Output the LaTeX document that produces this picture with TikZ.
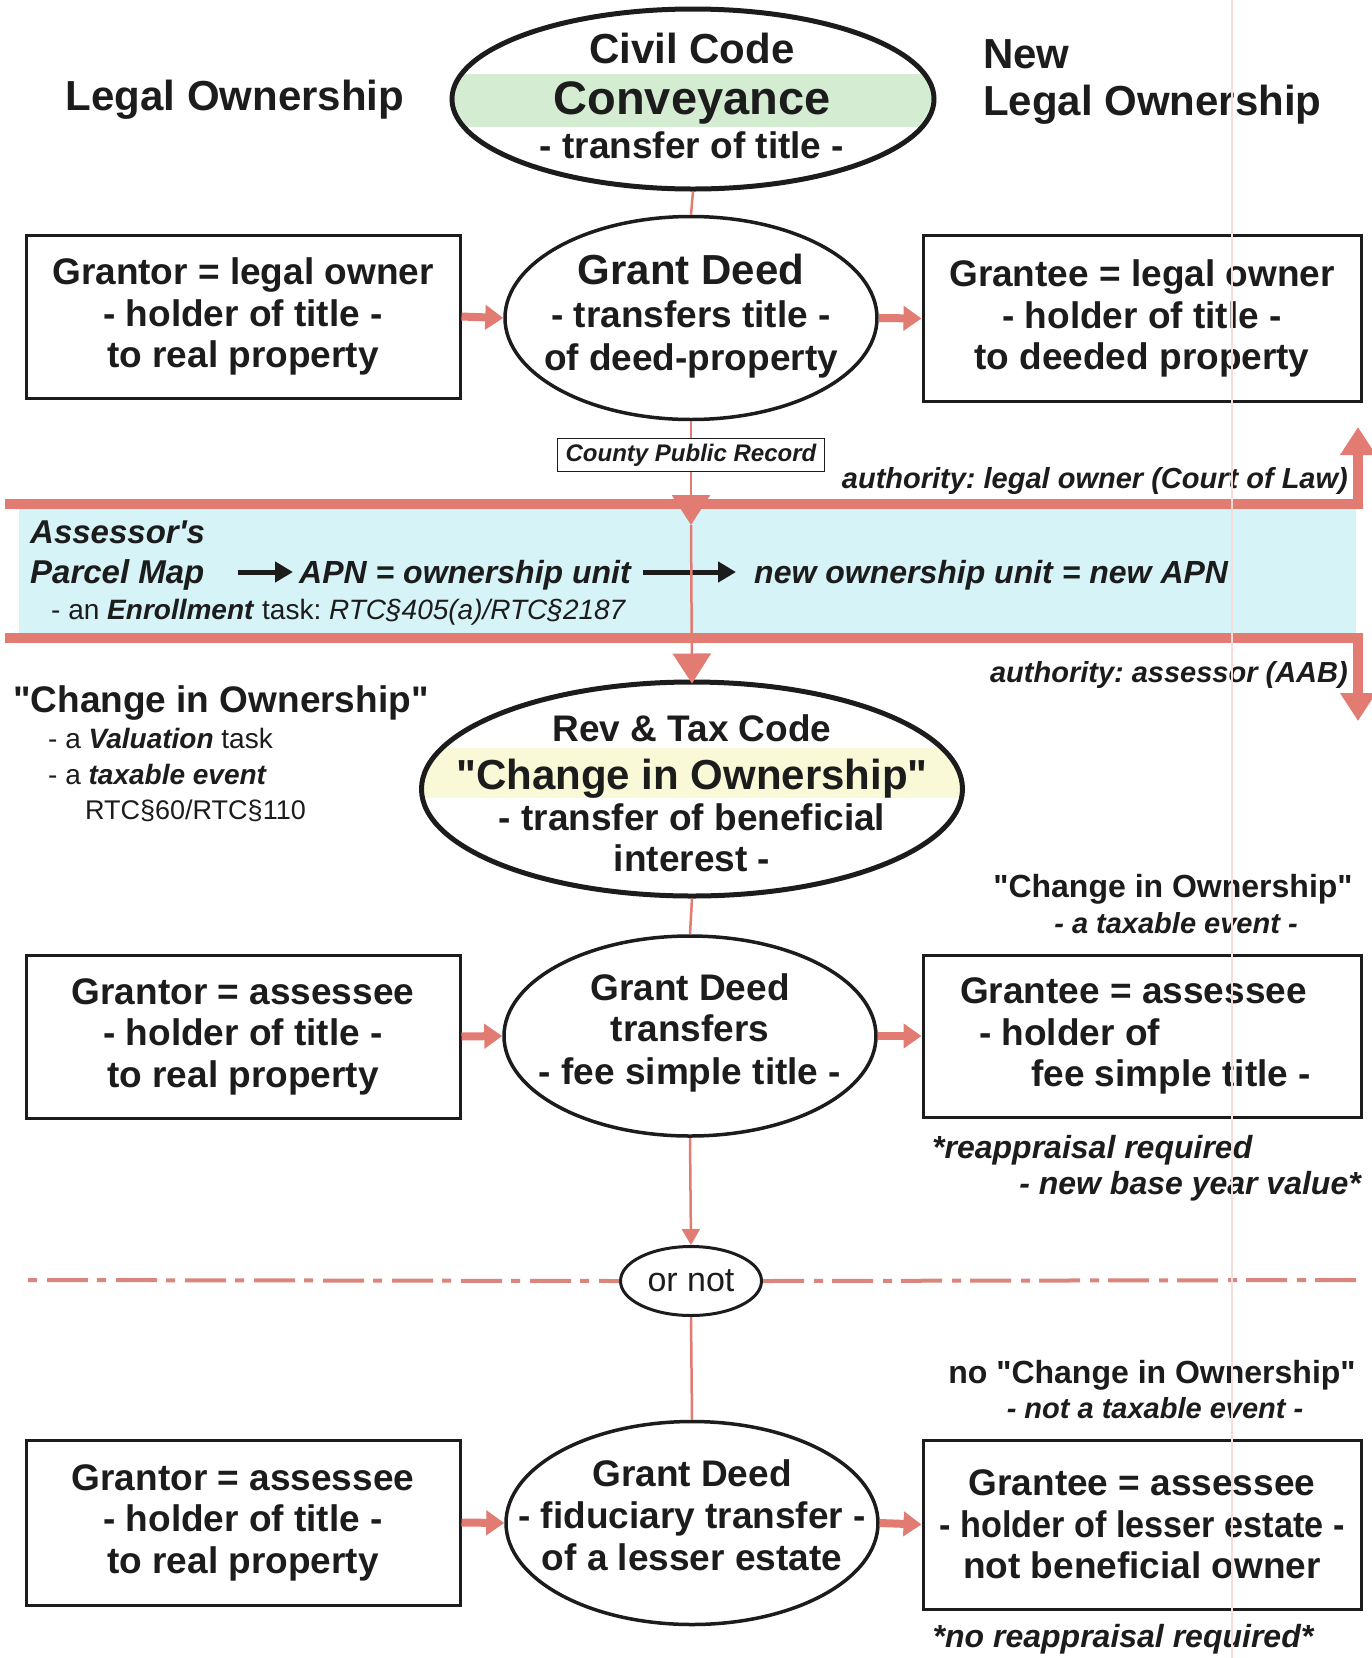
\documentclass[tikz,border=0pt]{standalone}
\usepackage{fontspec}
\usepackage{graphicx}
\setmainfont{Liberation Sans}[Ligatures=TeXOff]
\usetikzlibrary{shapes.geometric,arrows.meta}
\definecolor{pinkc}{RGB}{226,124,114}
\definecolor{pinkd}{RGB}{218,134,124}
\definecolor{pinkl}{RGB}{245,222,218}
\definecolor{cyanb}{RGB}{214,243,248}
\definecolor{greenb}{RGB}{212,237,210}
\definecolor{yellowb}{RGB}{249,249,216}
\definecolor{txt}{RGB}{28,28,28}
\newcommand\myfs[2]{\fontsize{#1}{#2}\selectfont}
\frenchspacing
\begin{document}
\begin{tikzpicture}[x=1pt,y=-1pt,
  tl/.style={inner sep=0pt, anchor=base, text=txt},
  tlw/.style={tl, anchor=base west},
  tle/.style={tl, anchor=base east},
  fA/.style={font=\bfseries\myfs{42}{47}},
  fB/.style={font=\bfseries\myfs{37}{41.5}},
  fC/.style={font=\bfseries\myfs{32}{36}},
  fCi/.style={font=\bfseries\itshape\myfs{32}{36}},
  fDi/.style={font=\bfseries\itshape\myfs{29}{33}},
  ell/.style={ellipse, draw=txt, line width=3.5pt, inner sep=0pt},
  box/.style={draw=txt, line width=3pt, fill=white, inner sep=0pt, align=center,
              text=txt, font=\bfseries\myfs{37}{41.5}},
  pinkline/.style={draw=pinkc, line width=2.5pt},
  pinkarrow/.style={draw=pinkc, line width=8pt, -{Triangle[length=18pt,width=24pt]}},
  bigtip/.style={-{Triangle[length=30pt,width=38pt]}},
  bandline/.style={draw=pinkc, line width=10pt, -{Triangle[length=28pt,width=34pt]}},
  blackarrow/.style={draw=txt, line width=5pt, -{Triangle[length=18pt,width=20pt]}}
]
\useasboundingbox (0,0) rectangle (1372,1658);
\fill[white] (0,0) rectangle (1372,1658);

% ---------- assessor band ----------
\fill[cyanb] (19,509) rectangle (1356,633);
\draw[bandline] (5,504) -- (1358,504) -- (1358,427);
\draw[bandline] (5,638) -- (1358,638) -- (1358,721);

% ---------- colour bands inside ellipses ----------
\begin{scope}
  \clip (693,99) ellipse [x radius=238, y radius=88];
  \fill[greenb] (440,74) rectangle (940,127);
\end{scope}
\begin{scope}
  \clip (692,790) ellipse [x radius=269, y radius=106];
  \fill[yellowb] (410,748) rectangle (980,798);
\end{scope}

% ---------- ellipses ----------
\node[ell, line width=5pt, minimum width=482pt, minimum height=180pt] (civil) at (693,99) {};
\node[ell, minimum width=372pt, minimum height=203pt] (gd1) at (691,318) {};
\node[ell, line width=5pt, minimum width=541pt, minimum height=214pt] (revtax) at (692,789) {};
\node[ell, minimum width=372pt, minimum height=200pt] (gd2) at (690,1036) {};
\node[ell, line width=3pt, minimum width=141pt, minimum height=69pt, fill=white,
      text=txt, font=\myfs{34}{38}] (ornot) at (691,1281) {or not};
\node[ell, minimum width=372pt, minimum height=203pt] (gd3) at (692,1523) {};

% ellipse texts
\node[tl, fA] (civA) at (692,63) {Civil Code};
\node[tl, font=\bfseries\myfs{47}{50}] (civB) at (692,114) {Conveyance};
\node[tl, fB] (civC) at (692,158) {- transfer of title -};

\node[tl, fA] (gd1A) at (691,284) {Grant Deed};
\node[tl, fB] (gd1B) at (691,327) {- transfers title -};
\node[tl, fB] (gd1C) at (691,370) {of deed-property};

\node[tl, fB] (rtA) at (692,741) {Rev \& Tax Code};
\node[tl, fA] (rtB) at (692,789) {"Change in Ownership"};
\node[tl, fB] (rtC) at (692,830) {- transfer of beneficial};
\node[tl, fB] (rtD) at (692,871) {interest -};

\node[tl, fB] (gd2A) at (690,1000) {Grant Deed};
\node[tl, fB] (gd2B) at (690,1041) {transfers};
\node[tl, fB] (gd2C) at (690,1084) {- fee simple title -};

\node[tl, fB] (gd3A) at (692,1486) {Grant Deed};
\node[tl, fB] (gd3B) at (692,1528) {- fiduciary transfer -};
\node[tl, fB] (gd3C) at (692,1570) {of a lesser estate};

% ---------- boxes ----------
\node[box, minimum width=434pt, minimum height=163pt] (gtor1) at (243,316.5)
  {Grantor = legal owner\\- holder of title -\\to real property};
\node[box, minimum width=438pt, minimum height=166pt] (gtee1) at (1142,318.5)
  {Grantee = legal owner\\- holder of title -\\to deeded property};
\node[box, minimum width=434pt, minimum height=163pt] (gtor2) at (243,1036.5)
  {Grantor = assessee\\- holder of title -\\to real property};
\node[box, minimum width=438pt, minimum height=162pt, align=left] (gtee2) at (1142,1036)
  {Grantee = assessee\\\hspace*{19pt}- holder of\\\hspace*{71pt}fee simple title -\hbox to 13pt{}};
\node[box, minimum width=434pt, minimum height=165pt] (gtor3) at (243,1522.5)
  {Grantor = assessee\\- holder of title -\\to real property};
\node[box, minimum width=438pt, minimum height=169pt] (gtee3) at (1142,1524.5)
  {Grantee = assessee\\\scalebox{0.925}[1]{- holder of lesser estate -}\\not beneficial owner};

% ---------- county record ----------
\node[draw=txt, line width=1.5pt, fill=white, inner sep=0pt, minimum width=267pt,
      minimum height=33pt, text=txt, font=\bfseries\itshape\myfs{24}{26}] (county) at (691,455)
  {County Public Record};

% ---------- headings ----------
\node[tl, fA] (lo) at (235,110) {Legal Ownership};
\node[tlw, fA] (newA) at (983,68) {New};
\node[tlw, fA] (newB) at (983,115) {Legal Ownership};

% ---------- authorities ----------
\node[tle, fDi] (auth1) at (1348,488) {authority: legal owner (Court of Law)};
\node[tle, fDi] (auth2) at (1348,682) {authority: assessor (AAB)};

% ---------- band texts ----------
\node[tlw, font=\bfseries\itshape\myfs{33}{36}] (ass) at (30,543) {Assessor's};
\node[tlw, font=\bfseries\itshape\myfs{33}{36}] (pmap) at (30,583) {Parcel Map};
\node[tlw, fCi] (apn) at (299,583) {APN = ownership unit};
\node[tlw, fCi] (napn) at (754,583) {new ownership unit = new APN};
\node[tlw, font=\myfs{28}{32}] (enrol) at (51,619)
  {- an \textbf{\textit{Enrollment}} task: \textit{RTC§405(a)/RTC§2187}};
\draw[blackarrow] ([xshift=33pt,yshift=11pt]pmap.base east) -- ([xshift=-6pt,yshift=11pt]apn.base west);
\draw[blackarrow] ([xshift=12pt,yshift=11pt]apn.base east) -- ([xshift=-18pt,yshift=11pt]napn.base west);

% ---------- left annotation ----------
\node[tlw, font=\bfseries\myfs{37}{40}] (cioL) at (13,712) {"Change in Ownership"};
\node[tlw, font=\myfs{28}{32}] (valL) at (48,748) {- a \textbf{\textit{Valuation}} task};
\node[tlw, font=\myfs{28}{32}] (taxL) at (48,784) {- a \textbf{\textit{taxable event}}};
\node[tlw, font=\myfs{27}{30}] (rtcL) at (85,819) {RTC§60/RTC§110};

% ---------- right annotations ----------
\node[tl, fC] (cioR) at (1173,897) {"Change in Ownership"};
\node[tl, fDi] (taxR) at (1176,933) {- a taxable event -};
\node[tlw, fCi] (reapA) at (932,1158) {*reappraisal required};
\node[tle, fCi] (reapB) at (1361,1194) {- new base year value*};
\node[tl, fC] (ncio) at (1152,1383) {no "Change in Ownership"};
\node[tl, fDi] (ntax) at (1155,1418) {- not a taxable event -};
\node[tl, fCi] (nreap) at (1123,1647) {*no reappraisal required*};

% ---------- connectors ----------
\coordinate (tipA) at (691,525);
\draw[pinkline] (civil.south) -- (gd1.north);
\draw[pinkline] (gd1.south) -- (county.north);
\draw[pinkline, bigtip] (county.south) -- (tipA);
\draw[pinkline, bigtip] (tipA) -- ([yshift=-4pt]revtax.north);
\draw[pinkline] (revtax.south) -- (gd2.north);
\draw[pinkline, -{Triangle[length=16pt,width=18pt]}] (gd2.south) -- (ornot.north);
\draw[pinkline] (ornot.south) -- (gd3.north);

\draw[pinkarrow] (gtor1.east) -- (gd1.west);
\draw[pinkarrow] (gd1.east) -- (gtee1.west);
\draw[pinkarrow] (gtor2.east) -- (gd2.west);
\draw[pinkarrow] (gd2.east) -- (gtee2.west);
\draw[pinkarrow] (gtor3.east) -- (gd3.west);
\draw[pinkarrow] (gd3.east) -- (gtee3.west);

% dash-dot separator
\coordinate (ddL) at (28,1280);
\coordinate (ddR) at (1356,1280);
\draw[pinkd, line width=4pt, dash pattern=on 9pt off 10pt on 41pt off 9pt] (ddL) -- (ornot.west);
\draw[pinkd, line width=4pt, dash pattern=on 41pt off 10pt on 9pt off 9pt] (ornot.east) -- (ddR);

% faint vertical scan line
\draw[pinkl, line width=1.5pt] (1232,0) -- (1232,1658);
\end{tikzpicture}
\end{document}
